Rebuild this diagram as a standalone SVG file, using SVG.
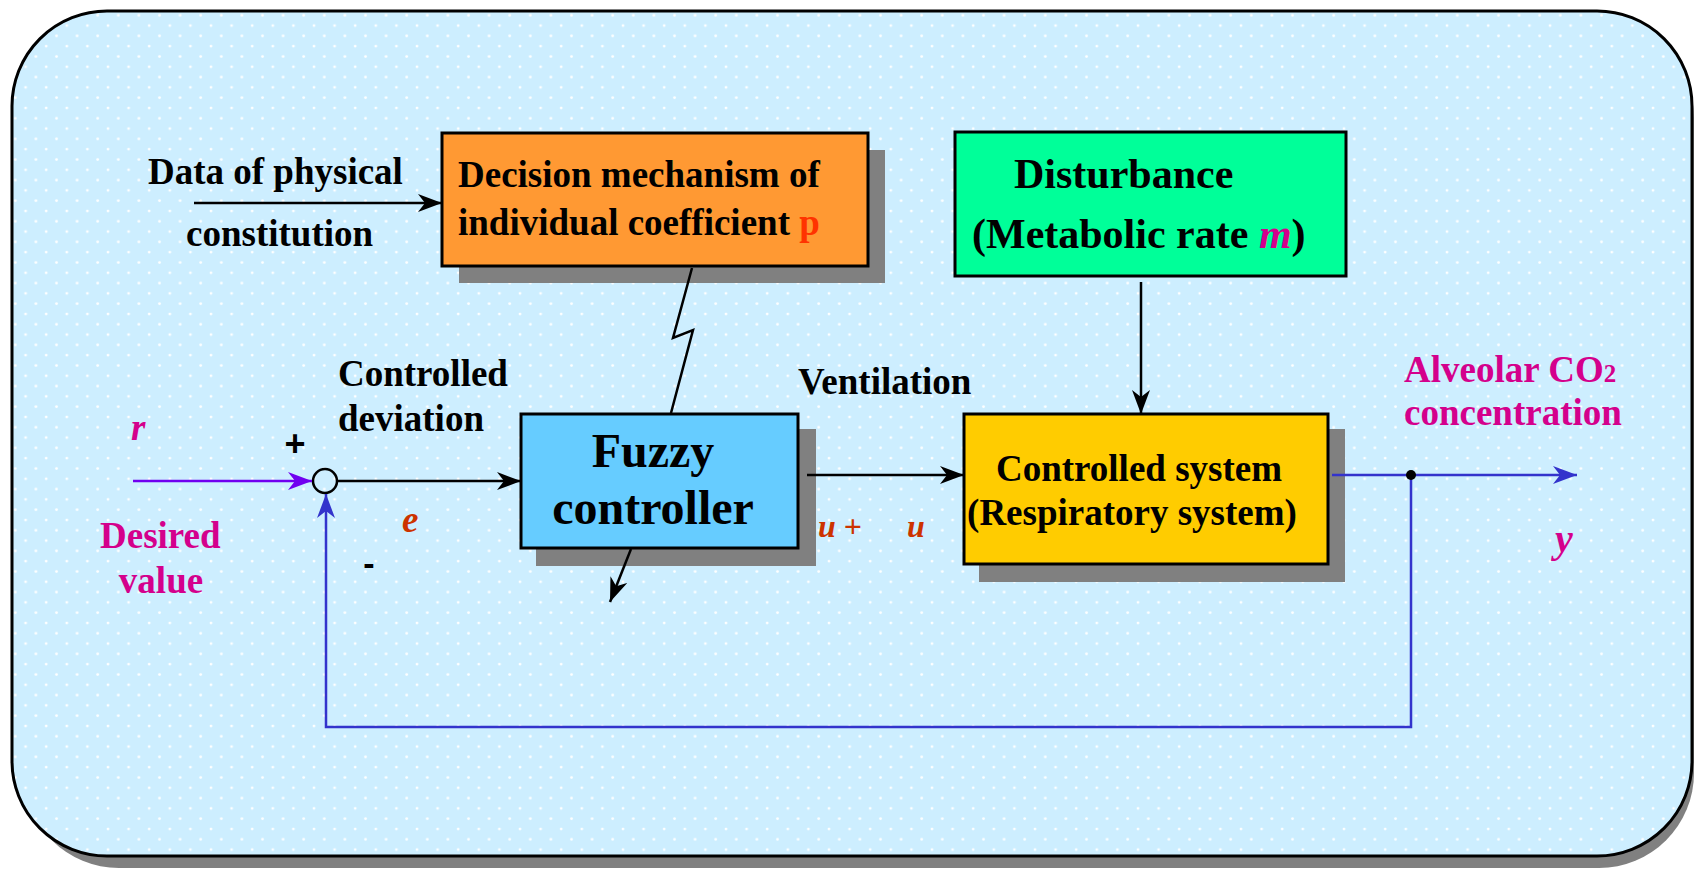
<svg xmlns="http://www.w3.org/2000/svg" width="1697" height="869" viewBox="0 0 1697 869">
<style>
.t{font-family:"Liberation Serif","Times New Roman",serif;font-weight:bold;font-size:37px;fill:#000}
.big{font-size:48px}
.mag{fill:#d4008c}
.red{fill:#cc3300}
.it{font-style:italic}
.box{stroke:#000;stroke-width:3}
.shadow{fill:#808080}
.ln{fill:none;stroke:#000;stroke-width:2.5}
.blue{fill:none;stroke:#3333cc;stroke-width:2.5}
.sans{font-family:"Liberation Sans",Arial,sans-serif;font-weight:bold}
</style>
<defs>
<pattern id="dots" width="20.6" height="20.6" patternUnits="userSpaceOnUse">
<circle cx="5" cy="5" r="1.4" fill="#ffffff"/>
<circle cx="15.3" cy="15.3" r="1.4" fill="#ffffff"/>
</pattern>
<marker id="ab" viewBox="0 0 24 18" refX="24" refY="9" markerWidth="24" markerHeight="18" markerUnits="userSpaceOnUse" orient="auto">
<path d="M0,0 L24,9 L0,18 L7,9 z" fill="#000"/>
</marker>
<marker id="au" viewBox="0 0 24 18" refX="24" refY="9" markerWidth="24" markerHeight="18" markerUnits="userSpaceOnUse" orient="auto">
<path d="M0,0 L24,9 L0,18 L7,9 z" fill="#3333cc"/>
</marker>
<marker id="ap" viewBox="0 0 24 18" refX="24" refY="9" markerWidth="24" markerHeight="18" markerUnits="userSpaceOnUse" orient="auto">
<path d="M0,0 L24,9 L0,18 L7,9 z" fill="#7000f0"/>
</marker>
</defs>

<g id="background">
<rect x="24" y="23" width="1670" height="845" rx="95" ry="95" fill="#808080"/>
<rect x="12" y="11" width="1680" height="845" rx="95" ry="95" fill="#cdeeff"/>
<rect x="12" y="11" width="1680" height="845" rx="95" ry="95" fill="url(#dots)" stroke="#000" stroke-width="3"/>
</g>

<g id="node-decision">
<rect class="shadow" x="459" y="150" width="426" height="133"/>
<rect class="box" x="442" y="133" width="426" height="133" fill="#ff9933"/>
<text class="t" x="458" y="187">Decision mechanism of</text>
<text class="t" x="458" y="235">individual coefficient <tspan fill="#ff3300">p</tspan></text>
</g>

<g id="node-disturbance">
<rect class="box" x="955" y="132" width="391" height="144" fill="#00ff99"/>
<text class="t" x="1014" y="188" style="font-size:42px">Disturbance</text>
<text class="t" x="972" y="248" style="font-size:42px">(Metabolic rate <tspan class="mag it">m</tspan>)</text>
</g>

<g id="node-fuzzy">
<rect class="shadow" x="536" y="429" width="280" height="137"/>
<rect class="box" x="521" y="414" width="277" height="134" fill="#66ccff"/>
<text class="t big" x="653" y="467" text-anchor="middle">Fuzzy</text>
<text class="t big" x="653" y="524" text-anchor="middle">controller</text>
</g>

<g id="node-system">
<rect class="shadow" x="979" y="429" width="366" height="153"/>
<rect class="box" x="964" y="414" width="364" height="150" fill="#ffcc00"/>
<text class="t" x="1139" y="481" text-anchor="middle">Controlled system</text>
<text class="t" x="1132" y="525" text-anchor="middle">(Respiratory system)</text>
</g>

<g id="node-sum">
<circle cx="325" cy="481" r="12" fill="none" stroke="#000" stroke-width="2.5"/>
</g>

<g id="connectors">
<line class="ln" x1="194" y1="203" x2="442" y2="203" marker-end="url(#ab)"/>
<polyline class="ln" points="692,268 673,338 693,330 671,413"/>
<line class="ln" x1="1141" y1="282" x2="1141" y2="414" marker-end="url(#ab)"/>
<line x1="133" y1="481" x2="312" y2="481" stroke="#7000f0" stroke-width="2.5" marker-end="url(#ap)"/>
<line class="ln" x1="338" y1="481" x2="521" y2="481" marker-end="url(#ab)"/>
<line class="ln" x1="807" y1="475" x2="964" y2="475" marker-end="url(#ab)"/>
<line class="ln" x1="631" y1="549" x2="610" y2="602" marker-end="url(#ab)"/>
<line class="blue" x1="1332" y1="475" x2="1577" y2="475" marker-end="url(#au)"/>
<polyline class="blue" points="1411,475 1411,727 326,727 326,494" marker-end="url(#au)"/>
<circle cx="1411" cy="475" r="5" fill="#000"/>
</g>

<g id="labels">
<text class="t" x="148" y="184">Data of physical</text>
<text class="t" x="186" y="246">constitution</text>
<text class="t" x="338" y="386">Controlled</text>
<text class="t" x="338" y="431">deviation</text>
<text class="t" x="798" y="394">Ventilation</text>
<text class="t mag" x="1404" y="382">Alveolar CO<tspan style="font-size:25px">2</tspan></text>
<text class="t mag" x="1404" y="425">concentration</text>
<text class="t mag it" x="131" y="440">r</text>
<text class="t mag" x="100" y="548">Desired</text>
<text class="t mag" x="161" y="593" text-anchor="middle">value</text>
<text class="sans" x="295" y="456" font-size="36" text-anchor="middle">+</text>
<text class="sans" x="369" y="575" font-size="34" text-anchor="middle">-</text>
<text class="t red it" x="402" y="532">e</text>
<text class="t red" x="818" y="537" style="font-size:32px"><tspan class="it">u</tspan> +</text>
<text class="t red it" x="907" y="537" style="font-size:32px">u</text>
<text class="t mag it" x="1555" y="552" style="font-size:40px">y</text>
</g>
</svg>
